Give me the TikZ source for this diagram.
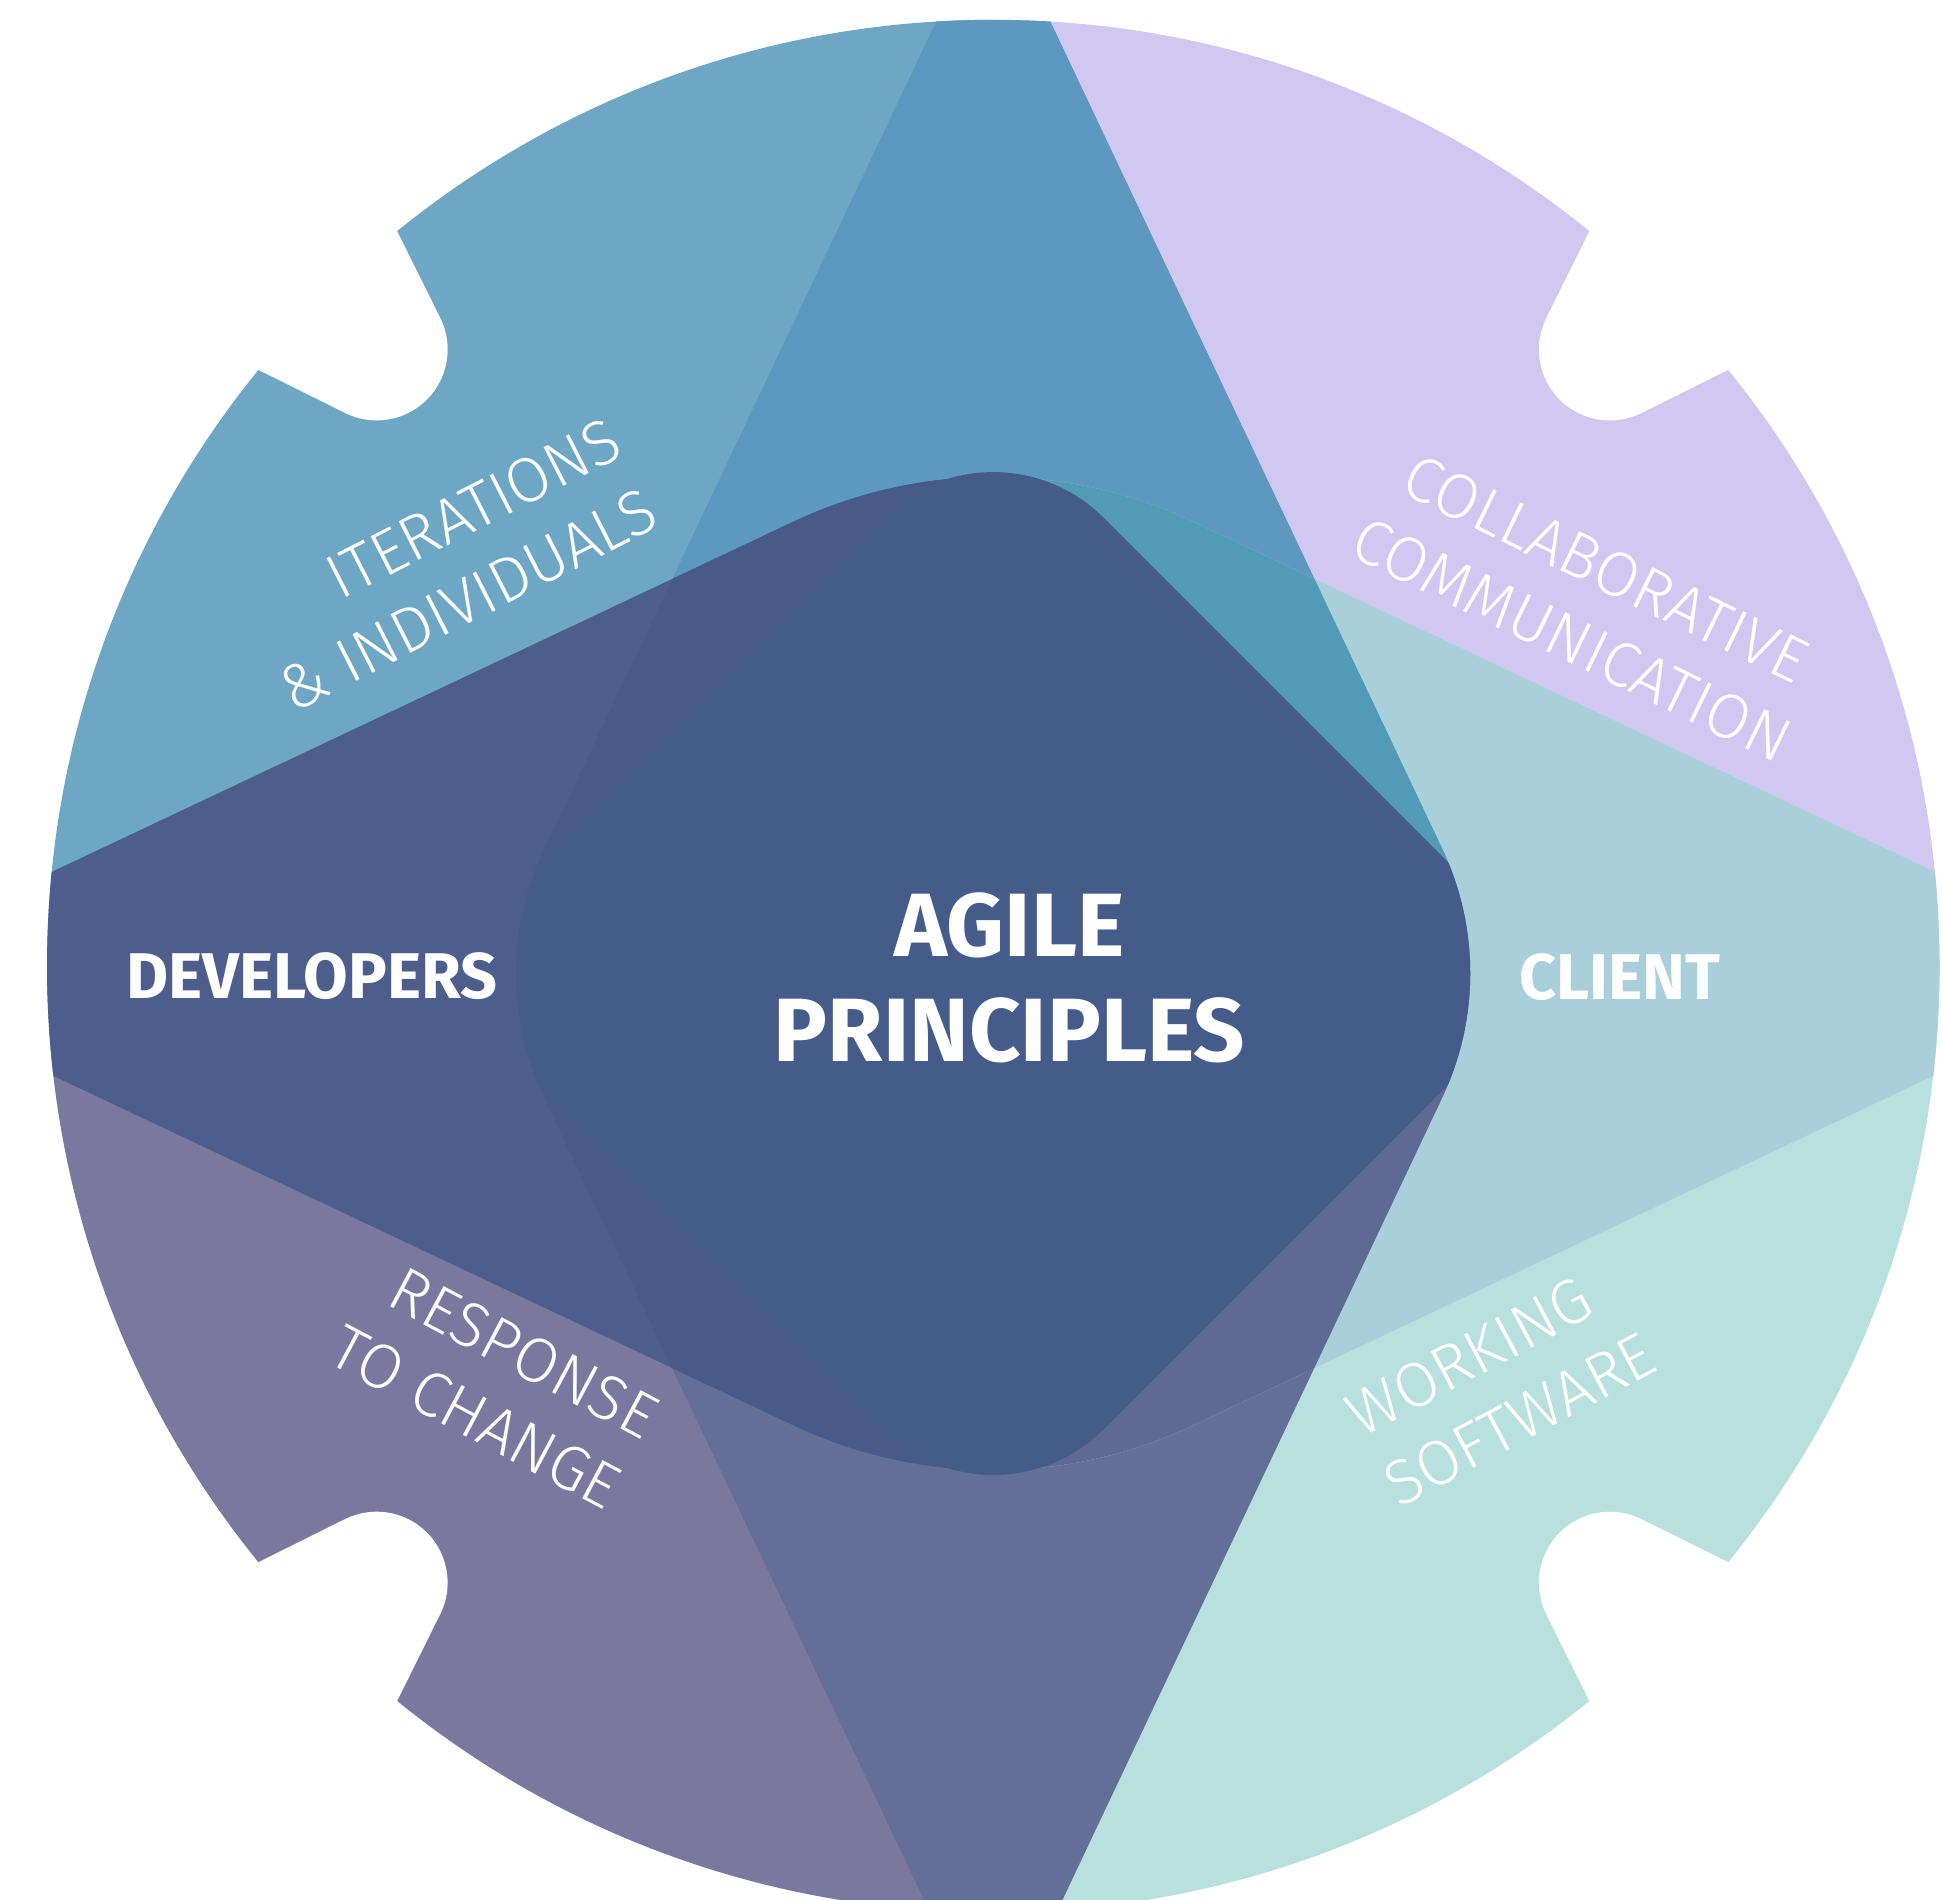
\documentclass[tikz,border=0pt]{standalone}
\usepackage{fontspec}
\setmainfont{Fira Sans}
\newfontfamily\thinfont{Fira Sans Light}

\definecolor{iterblue}{HTML}{6DA7C3}
\definecolor{collab}{HTML}{D1C8F2}
\definecolor{response}{HTML}{7A789F}
\definecolor{working}{HTML}{B8E0DF}
\definecolor{vtop}{HTML}{5C98BF}
\definecolor{vbot}{HTML}{636F97}
\definecolor{devel}{HTML}{4D5E8C}
\definecolor{client}{HTML}{A9D0DA}
\definecolor{mixleft}{HTML}{485A8A}
\definecolor{mixtop}{HTML}{519AB8}
\definecolor{mixbot}{HTML}{5E6994}
\definecolor{core}{HTML}{455B8A}

% the two long rounded kites, centre at the origin
\def\vlens{(0,866) -- (-362.5,100.3) arc[start angle=154.66, end angle=205.34, radius=235]
  -- (0,-866) -- (362.5,-100.3) arc[start angle=-25.34, end angle=25.34, radius=235] -- cycle}
\def\hlens{(934,0) -- (161.5,364.7) arc[start angle=64.7, end angle=115.3, radius=378]
  -- (-934,0) -- (-161.5,-364.7) arc[start angle=244.7, end angle=295.3, radius=378] -- cycle}

\tikzset{
  sidelabel/.style={text=white, inner sep=0pt, font=\thinfont\fontsize{18}{22.5}\selectfont},
  boldlabel/.style={text=white, inner sep=0pt, font=\bfseries\fontsize{18.4}{22}\selectfont},
  titlelabel/.style={text=white, inner sep=0pt, align=center, font=\bfseries\fontsize{25.6}{30}\selectfont}
}

\begin{document}
\begin{tikzpicture}[x=0.012385cm, y=0.012385cm]
\useasboundingbox (-802,-753.3) rectangle (766,780);

\begin{scope}
\clip (0,0) circle (764);
% four quarters
\fill[iterblue] (0,-6) rectangle (-800,800);
\fill[collab] (0,-6) rectangle (800,800);
\fill[response] (0,-6) rectangle (-800,-800);
\fill[working] (0,-6) rectangle (800,-800);

\begin{scope}[shift={(0,-6)}]
% vertical kite
\begin{scope}
\clip \vlens;
\fill[vtop] (-500,0) rectangle (500,900);
\fill[vbot] (-500,0) rectangle (500,-900);
\end{scope}
% horizontal kite
\begin{scope}
\clip \hlens;
\fill[devel] (0,-500) rectangle (-1000,500);
\fill[client] (0,-500) rectangle (1000,500);
\end{scope}
% where they cross
\begin{scope}
\clip \vlens;
\begin{scope}
\clip \hlens;
\fill[mixleft] (0,0) rectangle (-500,500);
\fill[mixtop] (0,0) rectangle (500,500);
\fill[mixbot] (0,0) rectangle (500,-500);
\fill[mixleft] (0,0) rectangle (-500,-500);
\end{scope}
% rounded square in the middle
\fill[core, rounded corners=1.56cm] (0,457) -- (457,0) -- (0,-457) -- (-457,0) -- cycle;
\end{scope}
\end{scope}
\end{scope}

% notches in the rim
\foreach \a in {45,135,225,315}
  \fill[white, rotate=\a] (807,95) -- (685.9,54.3) arc[start angle=108.5, end angle=251.5, radius=57.3] -- (807,-95) -- cycle;

\node[titlelabel] (agile) at (13,-9.5) {AGILE\\PRINCIPLES};
\node[boldlabel] (developers) at (-550,-8) {DEVELOPERS};
\node[boldlabel] (client) at (506,-9) {CLIENT};

\node[sidelabel, rotate=27, align=right] (iterations) at (-438.5,324) {ITERATIONS\\\& INDIVIDUALS};
\node[sidelabel, rotate=-26, align=center] (collaborative) at (481,292) {COLLABORATIVE\\COMMUNICATION};
\node[sidelabel, rotate=-28, align=right] (response) at (-403,-336) {RESPONSE\\TO CHANGE};
\node[sidelabel, rotate=28, align=left] (working) at (410,-338) {WORKING\\SOFTWARE};
\end{tikzpicture}
\end{document}
